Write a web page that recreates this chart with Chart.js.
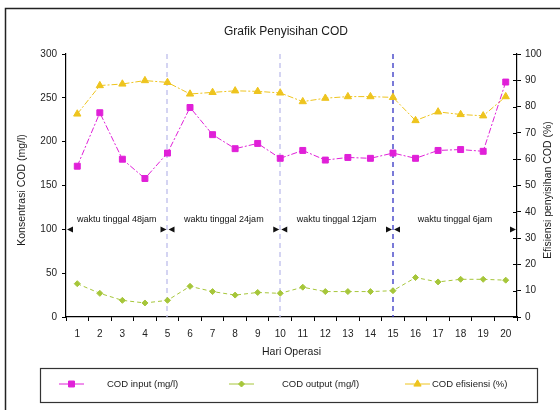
<!DOCTYPE html>
<html>
<head>
<meta charset="utf-8">
<script src="https://cdn.jsdelivr.net/npm/chart.js@4.4.1/dist/chart.umd.min.js"></script>
<style>
  html,body{margin:0;padding:0;background:#fff}
  #c{display:block}
</style>
</head>
<body>
<canvas id="c" width="560" height="410"></canvas>
<script>
const days = ['1','2','3','4','5','6','7','8','9','10','11','12','13','14','15','16','17','18','19','20'];
const codInput = [172,233,180,158,187,239,208,192,198,181,190,179,182,181,187,181,190,191,189,268];
const codOutput = [38,27,19,16,19,35,29,25,28,27,34,29,29,29,30,45,40,43,43,42];
const efisiensi = [77.2,88,88.6,89.9,89.2,84.8,85.4,86,85.8,85.2,81.9,83.2,83.8,83.8,83.5,74.7,78,77,76.5,83.8];
const phaseEnds = [5,10,15];            // hari di mana waktu tinggal berganti
const phaseLabels = ['waktu tinggal 48jam','waktu tinggal 24jam','waktu tinggal 12jam','waktu tinggal 6jam'];
const phaseLevel = 100;                 // tinggi panah (mg/l)

const FONT = '"Liberation Sans", Arial, sans-serif';
const MAG = '#E020D8', GRN = '#A6C63A', YEL = '#EEC41E';
const lineColors = ['#BDBDEB','#BDBDEB','#3434C4'];

const series = [
  {label:'COD input (mg/l)', data:codInput, axis:'y', color:MAG, style:'rect', r:4.2, dash:[6,2,2,2]},
  {label:'COD output (mg/l)', data:codOutput, axis:'y', color:GRN, style:'rectRot', r:3, dash:[4,3]},
  {label:'COD efisiensi (%)', data:efisiensi, axis:'y1', color:YEL, style:'triangle', r:4.2, dash:[6,2,2,2]}
];

function drawMarker(ctx, style, r, x, y){
  if (Chart.helpers && Chart.helpers.drawPoint) {
    Chart.helpers.drawPoint(ctx, {pointStyle:style, radius:r, borderWidth:1, rotation:0}, x, y);
  } else {
    ctx.beginPath(); ctx.rect(x-3,y-3,6,6); ctx.fill();
  }
}

const decor = {
  id:'decor',
  beforeDatasetsDraw(c){
    const {ctx, chartArea:a, scales:{x, y1}} = c;
    ctx.save();
    ctx.lineWidth = 1.3;
    ctx.setLineDash([5,4]);
    phaseEnds.forEach((d,i)=>{
      const px = Math.round(x.getPixelForValue(d-1));
      ctx.strokeStyle = lineColors[i];
      ctx.beginPath(); ctx.moveTo(px, a.top); ctx.lineTo(px, a.bottom); ctx.stroke();
    });
    // tick dalam pada sumbu kanan
    ctx.setLineDash([]); ctx.strokeStyle = '#000'; ctx.lineWidth = 1;
    y1.ticks.forEach(t=>{
      const py = Math.round(y1.getPixelForValue(t.value)) + 0.5;
      ctx.beginPath(); ctx.moveTo(a.right-4, py); ctx.lineTo(a.right, py); ctx.stroke();
    });
    ctx.restore();
  },
  afterDraw(c){
    const {ctx, chartArea:a, scales:{x, y}} = c;
    ctx.save();
    // bingkai luar
    ctx.strokeStyle = '#222'; ctx.lineWidth = 1.5;
    ctx.strokeRect(5.5, 8.5, 600, 500);
    // judul
    ctx.fillStyle = '#1a1a1a'; ctx.textAlign = 'center'; ctx.textBaseline = 'middle';
    ctx.font = '12px ' + FONT;
    ctx.fillText('Grafik Penyisihan COD', 286, 32);
    ctx.font = '10.5px ' + FONT;
    ctx.fillText('Hari Operasi', (a.left+a.right)/2, 352);
    ctx.save(); ctx.translate(22, 190); ctx.rotate(-Math.PI/2);
    ctx.fillText('Konsentrasi COD (mg/l)', 0, 0); ctx.restore();
    ctx.save(); ctx.translate(548, 190); ctx.rotate(-Math.PI/2);
    ctx.fillText('Efisiensi penyisihan COD (%)', 0, 0); ctx.restore();

    // panah waktu tinggal
    const ay = Math.round(y.getPixelForValue(phaseLevel)) + 0.5;
    const bounds = [a.left, ...phaseEnds.map(d=>x.getPixelForValue(d-1)), a.right];
    ctx.fillStyle = '#111';
    const head = (px, dir) => {
      ctx.beginPath();
      ctx.moveTo(px, ay); ctx.lineTo(px - dir*6, ay-3); ctx.lineTo(px - dir*6, ay+3); ctx.closePath(); ctx.fill();
    };
    ctx.font = '9px ' + FONT;
    for (let i=0;i<bounds.length-1;i++){
      const l = bounds[i], r = bounds[i+1];
      head(l+1, -1); head(r-1, 1);
      ctx.fillStyle = '#111';
      ctx.fillText(phaseLabels[i], (l+r)/2, ay-10);
    }

    // legenda
    ctx.strokeStyle = '#333'; ctx.lineWidth = 1.2;
    ctx.strokeRect(40.5, 368.5, 497, 34);
    const lineX = [59, 229, 405], textX = [107, 282, 432], ly = 384;
    series.forEach((s,i)=>{
      ctx.strokeStyle = s.color; ctx.fillStyle = s.color; ctx.lineWidth = 1;
      ctx.beginPath(); ctx.moveTo(lineX[i], ly); ctx.lineTo(lineX[i]+25, ly); ctx.stroke();
      drawMarker(ctx, s.style, s.r, lineX[i]+12.5, ly);
      ctx.fillStyle = '#1a1a1a'; ctx.textAlign = 'left'; ctx.font = '9.5px ' + FONT;
      ctx.fillText(s.label, textX[i], ly);
    });
    ctx.restore();
  }
};

const tickFont = {family: FONT, size: 10};
new Chart(document.getElementById('c'), {
  type:'line',
  data:{
    labels: days,
    datasets: series.map(s=>({
      label:s.label, data:s.data, yAxisID:s.axis,
      borderColor:s.color, backgroundColor:s.color,
      pointStyle:s.style, pointRadius:s.r, pointBorderWidth:1,
      borderWidth:1, borderDash:s.dash, tension:0, fill:false
    }))
  },
  options:{
    responsive:false, animation:false, devicePixelRatio:1,
    layout:{padding:{top:54, left:0, right:0, bottom:0}},
    plugins:{legend:{display:false}, tooltip:{enabled:false}, title:{display:false}},
    scales:{
      x:{
        type:'category', offset:true,
        grid:{display:true, drawOnChartArea:false, offset:true, tickLength:4, color:'#000'},
        border:{display:true, color:'#000', width:1.2},
        ticks:{font:tickFont, color:'#222', padding:7, maxRotation:0, autoSkip:false},
        afterFit(s){ s.height = 93; }
      },
      y:{
        position:'left', min:0, max:300,
        grid:{drawOnChartArea:false, tickLength:4, color:'#000'},
        border:{color:'#000', width:1.2},
        ticks:{stepSize:50, font:tickFont, color:'#222', padding:5},
        afterFit(s){ s.width = 66; }
      },
      y1:{
        position:'right', min:0, max:100,
        grid:{drawOnChartArea:false, tickLength:4, color:'#000'},
        border:{color:'#000', width:1.2},
        ticks:{stepSize:10, font:tickFont, color:'#222', padding:4},
        afterFit(s){ s.width = 43; }
      }
    }
  },
  plugins:[decor]
});
</script>
</body>
</html>
